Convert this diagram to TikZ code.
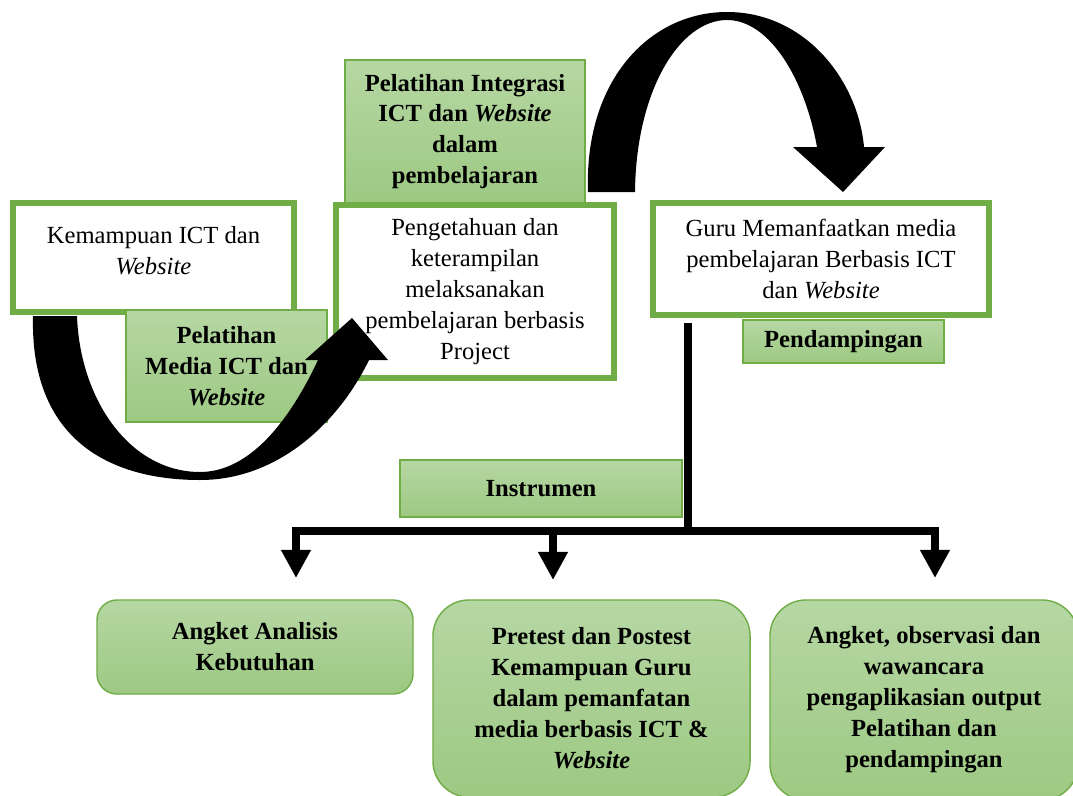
\documentclass[tikz,border=0pt]{standalone}
\usepackage{fontspec}
\setmainfont{Liberation Serif}
\usetikzlibrary{arrows.meta}
\definecolor{framegreen}{HTML}{70AD47}
\definecolor{lightgreen}{HTML}{B6D7A3}
\definecolor{midgreen}{HTML}{9DC983}

\begin{document}
\begin{tikzpicture}[x=0.025cm,y=-0.025cm,
    frame/.style={draw=framegreen,line width=4.3pt,fill=white,align=center,inner sep=2pt,
        font=\fontsize{17.5}{22}\selectfont},
    greenbox/.style={draw=framegreen,line width=1pt,top color=lightgreen,bottom color=midgreen,
        align=center,inner sep=2pt,font=\bfseries\fontsize{17.5}{22}\selectfont},
    roundbox/.style={greenbox,rounded corners=0.9cm},
    tree/.style={line width=5.5pt,-{Triangle[length=20pt,width=20pt]}}]
            \useasboundingbox (0,0) rectangle (1073,796);
            \clip (0,0) rectangle (1073,796);

            \node[greenbox,minimum width=6cm,minimum height=3.575cm] (integrasi) at (465,131.5)
                {Pelatihan Integrasi\\ICT dan \textit{Website}\\dalam\\pembelajaran};

            \node[frame,minimum width=7.025cm,minimum height=2.725cm] (kemampuan) at (153.5,257.5)
                {Kemampuan ICT dan\\\textit{Website}\\[-12pt]};
            \node[frame,minimum width=6.95cm,minimum height=4.325cm] (pengetahuan) at (475,291.5)
                {Pengetahuan dan\\keterampilan\\melaksanakan\\pembelajaran berbasis\\Project};
            \node[frame,minimum width=8.4cm,minimum height=2.8cm] (guru) at (821,259)
                {Guru Memanfaatkan media\\pembelajaran Berbasis ICT\\dan \textit{Website}};

            \node[greenbox,minimum width=5.025cm,minimum height=2.8cm] (media) at (226.5,366)
                {Pelatihan\\Media ICT dan\\\textit{Website}};
            \node[greenbox,minimum width=5.025cm,minimum height=1.075cm] (pendampingan) at (843.5,341.5)
                {Pendampingan};

            \fill (33,316) .. controls (30,440) and (110,480) .. (200,480)
                .. controls (280,480) and (340,420) .. (369,360)
                -- (388,360) -- (352,318) -- (305,360) -- (318,360)
                .. controls (290,420) and (250,472) .. (200,472)
                .. controls (130,472) and (80,400) .. (77,316) -- cycle;
            \fill (588,192) .. controls (584,80) and (650,12) .. (727,12)
                .. controls (805,12) and (858,80) .. (864,147)
                -- (885,147) -- (843,192) -- (793,147) -- (817,147)
                .. controls (805,80) and (770,20) .. (727,20)
                .. controls (680,20) and (636,90) .. (635,192) -- cycle;

            \node[greenbox,minimum width=7.05cm,minimum height=1.425cm] (instrumen) at (541,488.5)
                {Instrumen};

            \coordinate (trunk) at (688,323);
            \coordinate (split) at (688,531);
            \coordinate (tip1) at (296,578);
            \coordinate (tip2) at (553,580);
            \coordinate (tip3) at (935,578);
            \draw[line width=5.7pt] (trunk) -- (split);
            \draw[tree] (split) -| (tip1);
            \draw[tree] (split) -| (tip3);
            \draw[tree] (tip2 |- split) -- (tip2);

            \node[greenbox,rounded corners=0.5cm,minimum width=7.9cm,minimum height=2.35cm] (analisis) at (255,647)
                {Angket Analisis\\Kebutuhan};
            \node[roundbox,minimum width=7.925cm,minimum height=4.925cm] (pretest) at (591.5,698.5)
                {Pretest dan Postest\\Kemampuan Guru\\dalam pemanfatan\\media berbasis ICT \&\\\textit{Website}};
            \node[roundbox,minimum width=7.7cm,minimum height=5cm] (angket) at (924,700)
                {Angket, observasi dan\\wawancara\\pengaplikasian output\\Pelatihan dan\\pendampingan};

        \end{tikzpicture}
\end{document}
